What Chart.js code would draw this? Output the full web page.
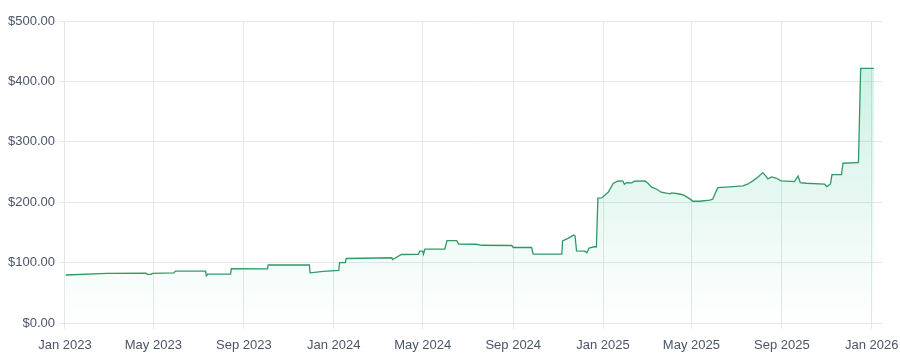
<!DOCTYPE html>
<html>
<head>
<meta charset="utf-8">
<script src="https://cdn.jsdelivr.net/npm/chart.js@4/dist/chart.umd.min.js"></script>
<style>
  html, body { margin: 0; padding: 0; background: #ffffff; }
  #wrap { width: 900px; height: 362px; position: relative; }
</style>
</head>
<body>
<div id="wrap"><canvas id="c" width="900" height="362"></canvas></div>
<script>
const dates = [
  "2023-01-02","2023-02-27","2023-04-21","2023-04-23","2023-04-28","2023-04-30","2023-05-29","2023-05-31",
  "2023-07-11","2023-07-12","2023-07-14","2023-08-14","2023-08-15","2023-10-03","2023-10-04","2023-11-29",
  "2023-11-30","2023-12-18","2024-01-08","2024-01-09","2024-01-17","2024-01-18","2024-03-20","2024-03-21",
  "2024-04-02","2024-04-25","2024-04-27","2024-05-01","2024-05-02","2024-05-04","2024-05-31","2024-06-03",
  "2024-06-16","2024-06-19","2024-07-13","2024-07-20","2024-08-30","2024-09-01","2024-09-26","2024-09-28",
  "2024-11-06","2024-11-07","2024-11-15","2024-11-22","2024-11-24","2024-11-26","2024-12-07","2024-12-10",
  "2024-12-13","2024-12-21","2024-12-23","2024-12-25","2024-12-30","2025-01-08","2025-01-15","2025-01-22",
  "2025-01-28","2025-01-30","2025-02-02","2025-02-09","2025-02-13","2025-02-27","2025-03-03","2025-03-08",
  "2025-03-15","2025-03-21","2025-04-02","2025-04-04","2025-04-13","2025-04-20","2025-04-29","2025-05-03",
  "2025-05-12","2025-05-26","2025-05-30","2025-06-02","2025-06-06","2025-06-22","2025-07-10","2025-07-17",
  "2025-07-24","2025-07-31","2025-08-06","2025-08-10","2025-08-13","2025-08-18","2025-08-24","2025-08-31",
  "2025-09-18","2025-09-23","2025-09-26","2025-10-04","2025-10-29","2025-11-01","2025-11-06","2025-11-08",
  "2025-11-21","2025-11-23","2025-12-12","2025-12-14","2025-12-17","2026-01-04"
];
const prices = [
  79.5, 82, 82.5, 80.5, 80.5, 82, 83, 86,
  86, 78, 81, 81, 90, 89.5, 96, 96,
  83, 85.6, 87, 100, 100, 106.8, 108, 105,
  113.4, 113.5, 119, 119, 114, 122.3, 122.3, 136.5,
  136.5, 130.6, 130.4, 128.7, 128.3, 125, 125, 114,
  114, 136, 140.5, 145.5, 144, 119.5, 119, 116.2,
  124, 126.6, 126, 206.6, 207, 216.5, 231.4, 235.2,
  235, 229.8, 232.4, 232, 234.7, 235.2, 231.4, 224.8,
  221.5, 216.5, 213.7, 215.4, 214, 212, 205.5, 201.6,
  201.6, 203.3, 205, 213.7, 224.1, 225.3, 227, 230.2,
  235.7, 242.3, 249, 243.5, 238.5, 241.8, 240, 235.2,
  234.1, 243.5, 232.4, 231.4, 229.8, 225.8, 230.2, 245.6,
  245.6, 264.5, 265.5, 265.5, 421.5, 421.5
];
const tickDates = ["2023-01-01","2023-05-01","2023-09-01","2024-01-01","2024-05-01","2024-09-01",
                   "2025-01-01","2025-05-01","2025-09-01","2026-01-01"];
const monthNames = ["Jan","Feb","Mar","Apr","May","Jun","Jul","Aug","Sep","Oct","Nov","Dec"];
const yTicks = [0, 100, 200, 300, 400, 500];

const toMs = s => { const p = s.split("-").map(Number); return Date.UTC(p[0], p[1]-1, p[2]); };
const points = dates.map((d, i) => ({ x: toMs(d), y: prices[i] }));
const xMin = toMs("2023-01-01");
const xMax = toMs("2026-01-15");

const ctx = document.getElementById("c").getContext("2d");
const fontFamily = "'Liberation Sans', Arial, sans-serif";

new Chart(ctx, {
  type: "line",
  data: {
    datasets: [{
      data: points,
      borderColor: "#2f9a66",
      borderWidth: 1.3,
      pointRadius: 0,
      tension: 0,
      fill: "origin",
      backgroundColor: (c) => {
        const area = c.chart.chartArea;
        if (!area) return "rgba(16,185,129,0.1)";
        const g = c.chart.ctx.createLinearGradient(0, area.top, 0, area.bottom);
        g.addColorStop(0, "rgba(16,185,129,0.24)");
        g.addColorStop(1, "rgba(16,185,129,0.0)");
        return g;
      }
    }]
  },
  options: {
    responsive: false,
    animation: false,
    layout: { padding: { left: 4, right: 18, top: 21, bottom: 0 } },
    plugins: { legend: { display: false }, tooltip: { enabled: false } },
    scales: {
      x: {
        type: "linear",
        min: xMin,
        max: xMax,
        afterBuildTicks: (axis) => { axis.ticks = tickDates.map(d => ({ value: toMs(d) })); },
        afterFit: (s) => { s.paddingLeft = 0; s.paddingRight = 0; s.height = 39; },
        ticks: {
          autoSkip: false,
          maxRotation: 0,
          padding: 9,
          color: "#4a5568",
          font: { family: fontFamily, size: 13 },
          callback: (v) => { const d = new Date(v); return monthNames[d.getUTCMonth()] + " " + d.getUTCFullYear(); }
        },
        grid: { color: "#e2e8ec", tickLength: 6, drawTicks: true },
        border: { display: false }
      },
      y: {
        min: 0,
        max: 500,
        afterBuildTicks: (axis) => { axis.ticks = yTicks.map(v => ({ value: v })); },
        ticks: {
          padding: 4,
          color: "#4a5568",
          font: { family: fontFamily, size: 13 },
          callback: (v) => "$" + Number(v).toFixed(2)
        },
        grid: { color: "#e2e8ec", tickLength: 6 },
        border: { display: false }
      }
    }
  }
});
</script>
</body>
</html>
